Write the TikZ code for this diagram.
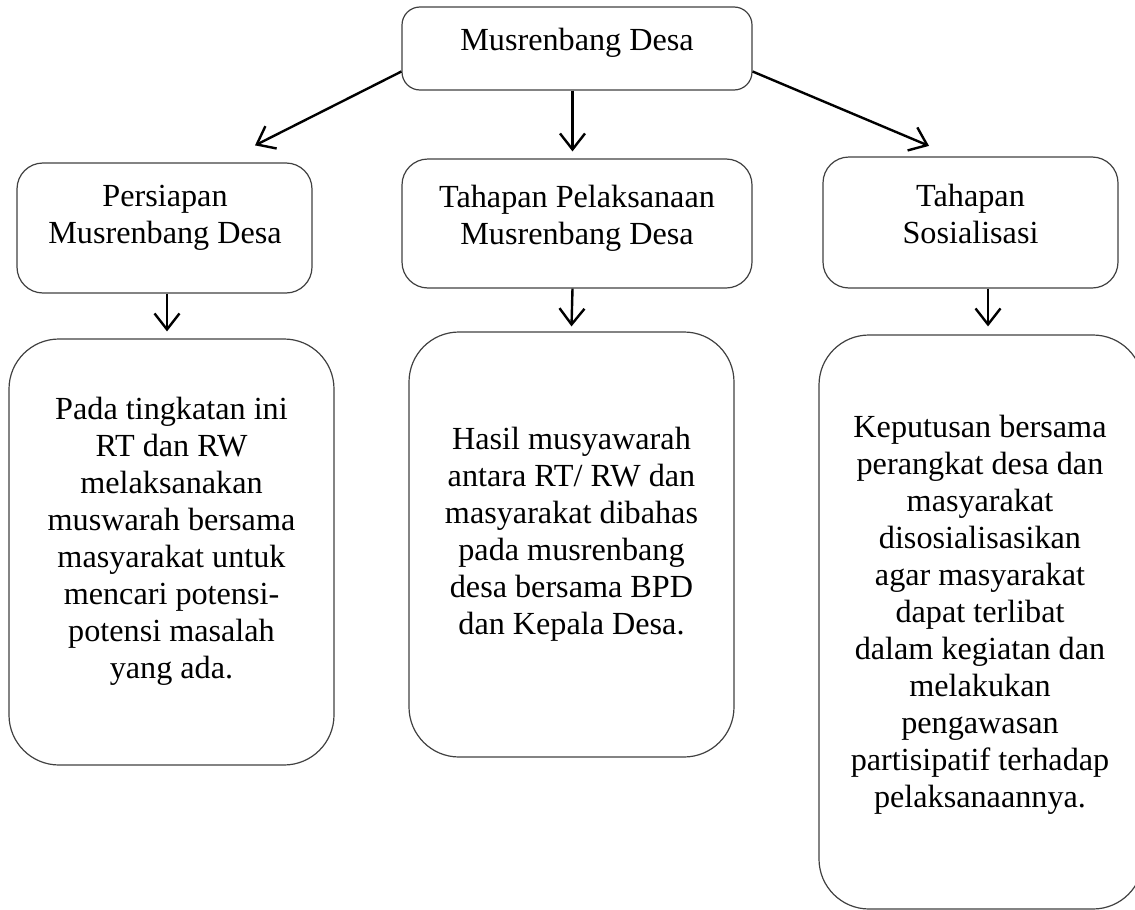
\documentclass[tikz,border=0pt]{standalone}
\usepackage{fontspec}
\setmainfont{Liberation Serif}
\usepackage{tikz}
\usetikzlibrary{
  arrows.meta,
  positioning,
  calc
}
\definecolor{boxline}{RGB}{64, 64, 64}
\definecolor{arrowcolor}{RGB}{0, 0, 0}
\definecolor{labelcolor}{RGB}{0, 0, 0}
\tikzset{
boxtext/.style={
  align=center,
  inner sep=0pt,
  font=\fontsize{16.1}{18.5}\selectfont,
  text=labelcolor
},
headblock/.style={
  draw=boxline,
  line width=0.6pt,
  rounded corners=9pt,
  minimum width=175pt,
  minimum height=41.5pt
},
stageblock/.style={
  draw=boxline,
  line width=0.6pt,
  rounded corners=13pt,
  minimum width=147.5pt,
  minimum height=65pt
},
detailblock/.style={
  draw=boxline,
  line width=0.6pt,
  rounded corners=25pt,
  minimum width=162.5pt
},
arrow/.style={
  -{Straight Barb[length=8pt,width=12.5pt,line width=1.2pt]},
  line width=1.2pt,
  draw=arrowcolor
}
}
\begin{document}
\begin{tikzpicture}[x=0.5pt,y=-0.5pt]
        \useasboundingbox (0,0) rectangle (1135,910);
        \node[headblock] (musren) at (577,48.5) {};
        \node[boxtext] (musrentext) at (577,42.5) {Musrenbang Desa};

        \node[stageblock] (persiapan) at (164.5,228) {};
        \node[stageblock, minimum width=175pt, minimum height=64.5pt] (pelaksanaan) at (577,223.5) {};
        \node[stageblock, minimum height=65.5pt] (sosialisasi) at (970.5,222.5) {};
        \node[boxtext] (persiapantext) at (165,218) {Persiapan\\Musrenbang Desa};
        \node[boxtext] (pelaksanaantext) at (577,218.5) {Tahapan Pelaksanaan\\Musrenbang Desa};
        \node[boxtext] (sosialisasitext) at (970.5,214) {Tahapan\\Sosialisasi};

        \node[detailblock, minimum height=213pt] (persiapandetail) at (171.5,552) {};
        \node[detailblock, minimum height=212.5pt] (pelaksanaandetail) at (571.5,544.5) {};
        \node[detailblock, minimum width=162pt, minimum height=287pt] (sosialisasidetail) at (981,622) {};
        \node[boxtext] (persiapandetailtext) at (171.5,541) {Pada tingkatan ini\\RT dan RW\\melaksanakan\\muswarah bersama\\masyarakat untuk\\mencari potensi-\\potensi masalah\\yang ada.};
        \node[boxtext] (pelaksanaandetailtext) at (571.5,534.5) {Hasil musyawarah\\antara RT/ RW dan\\masyarakat dibahas\\pada musrenbang\\desa bersama BPD\\dan Kepala Desa.};
        \node[boxtext] (sosialisasidetailtext) at (980,614.5) {Keputusan bersama\\perangkat desa dan\\masyarakat\\disosialisasikan\\agar masyarakat\\dapat terlibat\\dalam kegiatan dan\\melakukan\\pengawasan\\partisipatif terhadap\\pelaksanaannya.};

        \draw[arrow] ($(musren.west)+(0,23)$) -- ($(persiapan.north)+(90.5,-17)$);
        \draw[arrow] ($(musren.south)+(-4.5,0)$) -- ($(pelaksanaan.north)+(-4.5,-7)$);
        \draw[arrow] ($(musren.east)+(0,23)$) -- ($(sosialisasi.north)+(-41.5,-10.5)$);

        \draw[arrow] ($(persiapan.south)+(2.5,0)$) -- ($(persiapandetail.north)+(-4.5,-7)$);
        \draw[arrow] ($(pelaksanaan.south)+(-4.5,0)$) -- ($(pelaksanaandetail.north)+(0,-5)$);
        \draw[arrow] ($(sosialisasi.south)+(17.5,0)$) -- ($(sosialisasidetail.north)+(7,-8)$);
      \end{tikzpicture}
\end{document}
